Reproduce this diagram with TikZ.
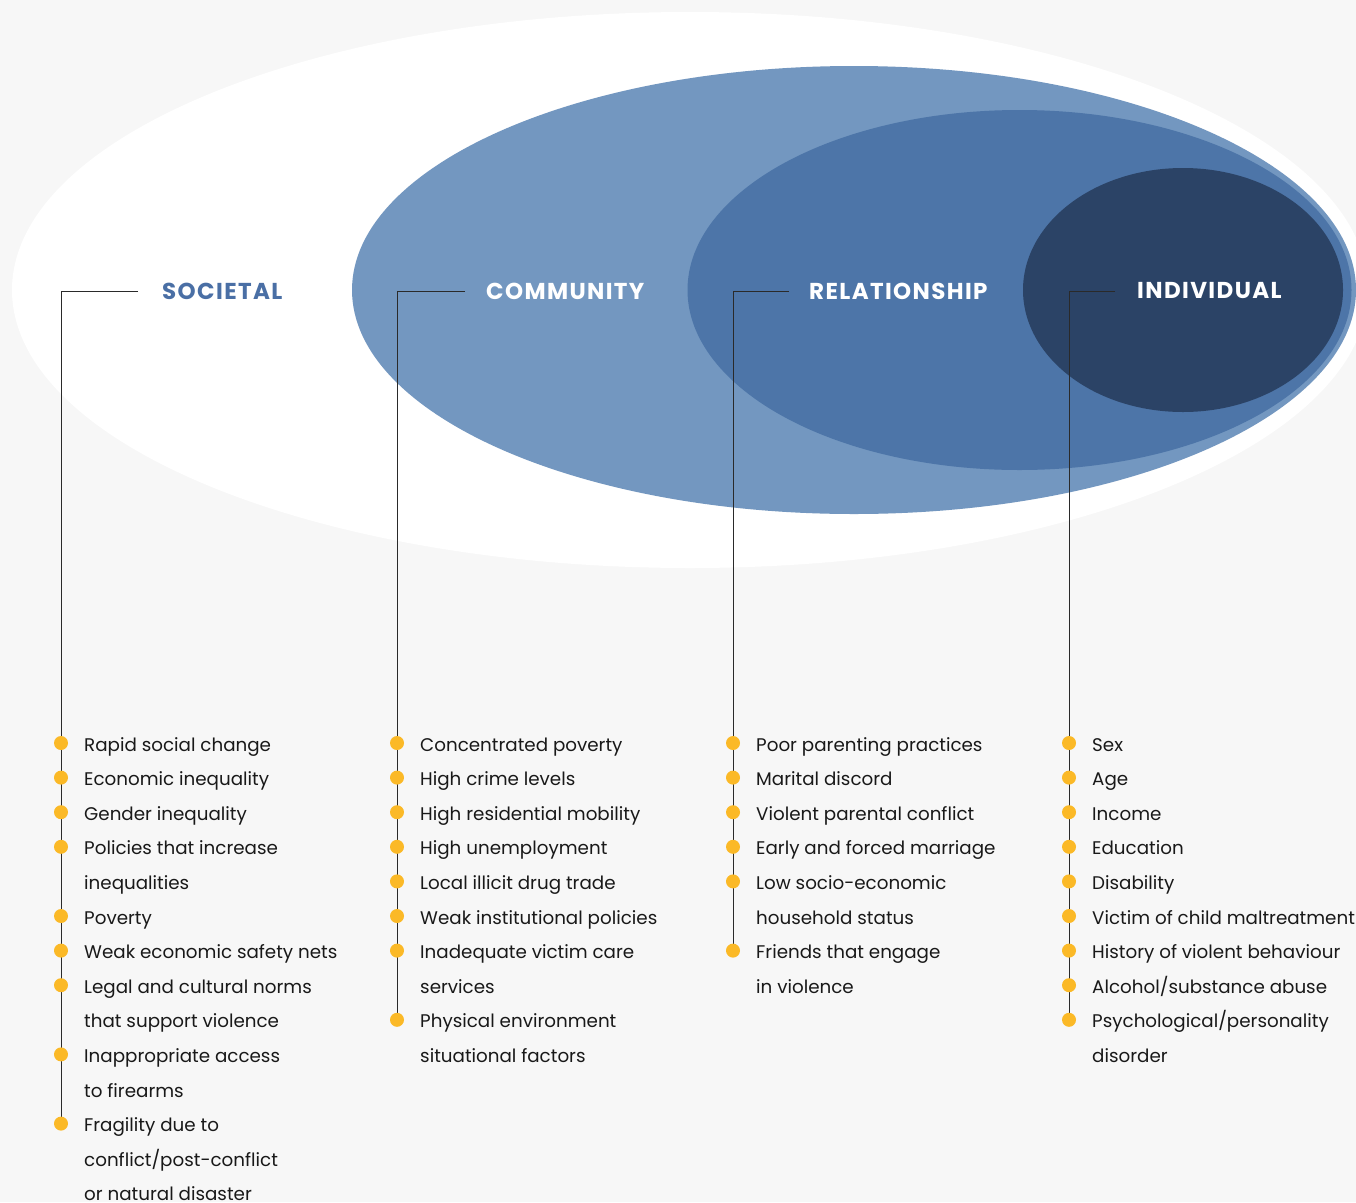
\documentclass[tikz,border=0pt]{standalone}
\usepackage{fontspec}
\setmainfont{Poppins}
\newfontfamily\hdrfont[LetterSpace=6]{Poppins}
\definecolor{bg}{HTML}{F7F7F7}
\definecolor{commc}{HTML}{7397C0}
\definecolor{relc}{HTML}{4D75A8}
\definecolor{indc}{HTML}{2B4366}
\definecolor{socc}{HTML}{4A6FA5}
\definecolor{bulc}{HTML}{FBB927}
\definecolor{linec}{HTML}{2A2A2A}
\tikzset{
  hdr/.style={anchor=west, inner sep=0pt, font=\hdrfont\fontsize{23}{27}\selectfont\bfseries},
  itm/.style={anchor=base west, inner sep=0pt, font=\fontsize{18.3}{23}\selectfont, text=black!90},
  bul/.style={circle, fill=bulc, minimum size=14pt, inner sep=0pt},
  conn/.style={draw=linec, line width=1pt}
}
\begin{document}
\begin{tikzpicture}[x=1pt,y=-1pt]
\useasboundingbox (0,0) rectangle (1356,1202);
\fill[bg] (0,0) rectangle (1356,1202);
\begin{scope}
\clip (0,0) rectangle (1356,1202);
\fill[white] (690,290) ellipse [x radius=678pt, y radius=278pt];
\fill[commc] (854,290) ellipse [x radius=502pt, y radius=224pt];
\fill[relc] (1019.5,290) ellipse [x radius=332pt, y radius=180pt];
\fill[indc] (1183,290) ellipse [x radius=160pt, y radius=122pt];
\end{scope}
% headers
\node[hdr, text=socc] (soc) at (162,291) {SOCIETAL};
\node[hdr, text=white] (com) at (486,291) {COMMUNITY};
\node[hdr, text=white] (rel) at (809,291) {RELATIONSHIP};
\node[hdr, text=white] (ind) at (1137,291) {INDIVIDUAL};
\def\rowy#1{743+#1*34.6}
% bullets
\foreach \k/\n in {0/s0,1/s1,2/s2,3/s3,5/s5,6/s6,7/s7,9/s9,11/s11}
  \coordinate (\n) at (61,{\rowy{\k}});
\foreach \k/\n in {0/c0,1/c1,2/c2,3/c3,4/c4,5/c5,6/c6,8/c8}
  \coordinate (\n) at (397,{\rowy{\k}});
\foreach \k/\n in {0/r0,1/r1,2/r2,3/r3,4/r4,6/r6}
  \coordinate (\n) at (733,{\rowy{\k}});
\foreach \k/\n in {0/i0,1/i1,2/i2,3/i3,4/i4,5/i5,6/i6,7/i7,8/i8}
  \coordinate (\n) at (1069,{\rowy{\k}});
% connectors
\draw[conn] ([xshift=-24pt]soc.west) -- (61,291) -- (s11);
\draw[conn] ([xshift=-21pt]com.west) -- (397,291) -- (c8);
\draw[conn] ([xshift=-20pt]rel.west) -- (733,291) -- (r6);
\draw[conn] ([xshift=-22pt]ind.west) -- (1069,291) -- (i8);
\foreach \n in {s0,s1,s2,s3,s5,s6,s7,s9,s11,c0,c1,c2,c3,c4,c5,c6,c8,r0,r1,r2,r3,r4,r6,i0,i1,i2,i3,i4,i5,i6,i7,i8}
  \node[bul] (b\n) at (\n) {};
% Societal items
\foreach \k/\t [count=\j] in {0/{Rapid social change},1/{Economic inequality},2/{Gender inequality},3/{Policies that increase},4/{inequalities},5/{Poverty},6/{Weak economic safety nets},7/{Legal and cultural norms},8/{that support violence},9/{Inappropriate access},10/{to firearms},11/{Fragility due to},12/{conflict/post-conflict},13/{or natural disaster}}
  \node[itm] (st\j) at (84,{\rowy{\k}+8}) {\t};
% Community items
\foreach \k/\t [count=\j] in {0/{Concentrated poverty},1/{High crime levels},2/{High residential mobility},3/{High unemployment},4/{Local illicit drug trade},5/{Weak institutional policies},6/{Inadequate victim care},7/{services},8/{Physical environment},9/{situational factors}}
  \node[itm] (ct\j) at (420,{\rowy{\k}+8}) {\t};
% Relationship items
\foreach \k/\t [count=\j] in {0/{Poor parenting practices},1/{Marital discord},2/{Violent parental conflict},3/{Early and forced marriage},4/{Low socio-economic},5/{household status},6/{Friends that engage},7/{in violence}}
  \node[itm] (rt\j) at (756,{\rowy{\k}+8}) {\t};
% Individual items
\foreach \k/\t [count=\j] in {0/{Sex},1/{Age},2/{Income},3/{Education},4/{Disability},5/{Victim of child maltreatment},6/{History of violent behaviour},7/{Alcohol/substance abuse},8/{Psychological/personality},9/{disorder}}
  \node[itm] (it\j) at (1092,{\rowy{\k}+8}) {\t};
\end{tikzpicture}
\end{document}
